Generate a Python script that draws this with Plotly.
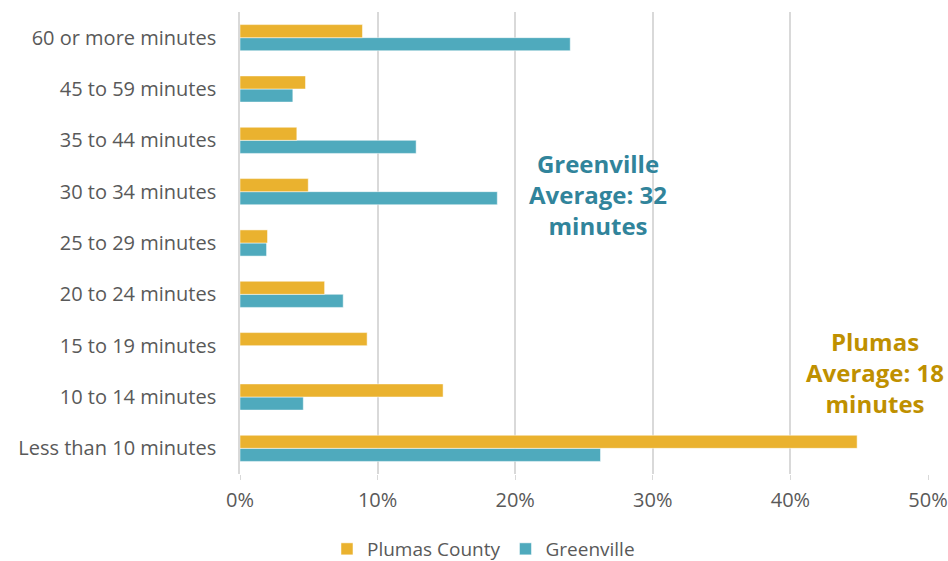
import plotly.graph_objects as go

categories = ["Less than 10 minutes", "10 to 14 minutes", "15 to 19 minutes",
              "20 to 24 minutes", "25 to 29 minutes", "30 to 34 minutes",
              "35 to 44 minutes", "45 to 59 minutes", "60 or more minutes"]
plumas = [0.4485, 0.1476, 0.0924, 0.0615, 0.020, 0.0496, 0.0413, 0.0476, 0.089]
greenville = [0.262, 0.046, 0.0, 0.075, 0.0193, 0.187, 0.128, 0.0384, 0.240]
tick_vals = [0, 0.1, 0.2, 0.3, 0.4, 0.5]

PLUMAS_C = "#EAB22F"
GREEN_C = "#4FAABD"
FONT = "Open Sans"

fig = go.Figure()
fig.add_trace(go.Bar(y=categories, x=greenville, orientation="h", name="Greenville",
                     marker=dict(color=GREEN_C, line=dict(color="white", width=0.5)),
                     legendrank=2))
fig.add_trace(go.Bar(y=categories, x=plumas, orientation="h", name="Plumas County",
                     marker=dict(color=PLUMAS_C, line=dict(color="white", width=0.5)),
                     legendrank=1))

fig.update_layout(
    width=948, height=561,
    margin=dict(l=240, r=20, t=12, b=87),
    paper_bgcolor="white", plot_bgcolor="white",
    barmode="group", bargap=0.49, bargroupgap=0,
    font=dict(family=FONT, color="#595959", size=19),
    xaxis=dict(range=[0, 0.5], tickvals=tick_vals, tickformat=".0%",
               showgrid=True, gridcolor="#D9D9D9", gridwidth=1.5,
               zeroline=False, ticks="outside", ticklen=5, tickcolor="#D9D9D9",
               ticklabelstandoff=3, automargin=False,
               tickfont=dict(size=20, color="#595959", family=FONT), fixedrange=True),
    yaxis=dict(showgrid=False, showline=True, linecolor="#D9D9D9", linewidth=1.5,
               ticks="", ticklabelstandoff=18, automargin=False,
               tickfont=dict(size=20, color="#595959", family=FONT)),
    legend=dict(orientation="h", x=0.51, xanchor="center", xref="container",
                y=(561 - 549) / 561, yanchor="middle", yref="container",
                font=dict(size=19, color="#595959", family=FONT), itemwidth=30),
    annotations=[
        dict(text="<b>Greenville<br>Average: 32<br>minutes</b>", xref="paper", yref="paper",
             x=(598 - 240) / 688, y=(474 - 195) / 462, showarrow=False,
             font=dict(size=24, color="#31849B", family=FONT), align="center"),
        dict(text="<b>Plumas<br>Average: 18<br>minutes</b>", xref="paper", yref="paper",
             x=(946 - 240) / 688, xanchor="right", y=(474 - 372) / 462, yanchor="middle",
             showarrow=False,
             font=dict(size=24, color="#BF9000", family=FONT), align="center"),
    ],
)

fig.write_html("out.html")
